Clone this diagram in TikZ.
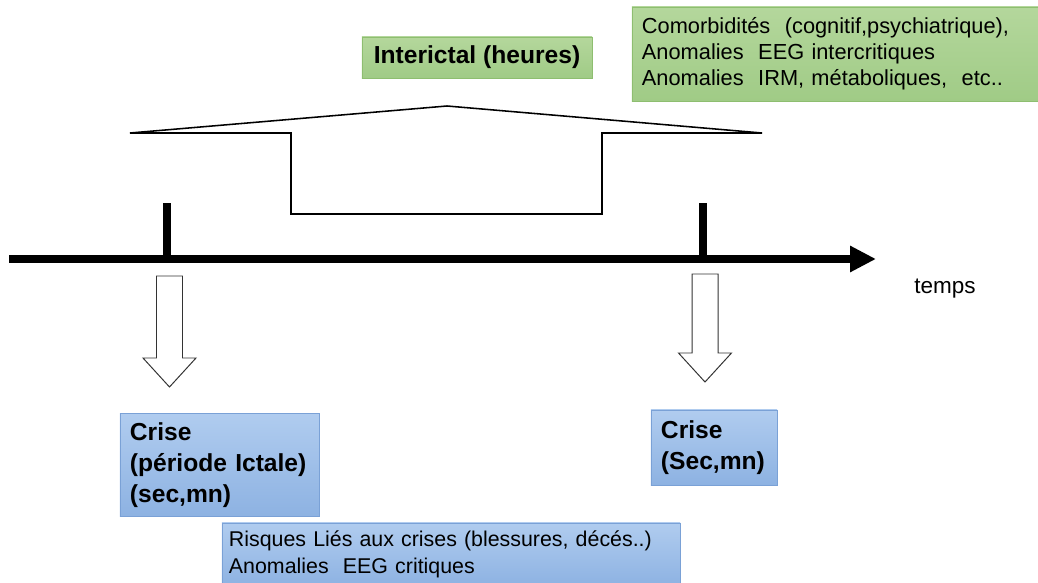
\documentclass[tikz,border=0pt]{standalone}
\usepackage{fontspec}
\setmainfont{Liberation Sans}
\usetikzlibrary{arrows.meta}
\definecolor{greentop}{RGB}{180, 215, 156}
\definecolor{greenbot}{RGB}{160, 203, 134}
\definecolor{greenline}{RGB}{142, 190, 112}
\definecolor{bluetop}{RGB}{176, 204, 239}
\definecolor{bluebot}{RGB}{141, 178, 226}
\definecolor{blueline}{RGB}{122, 161, 214}

\tikzset{
  greenbox/.style={draw=greenline, top color=greentop, bottom color=greenbot, inner xsep=0.25cm},
  bluebox/.style={draw=blueline, top color=bluetop, bottom color=bluebot, inner xsep=0.25cm},
  plaintxt/.style={font=\fontsize{15.5}{18.5}\selectfont, align=left},
  boldtxt/.style={font=\fontsize{17.5}{22}\selectfont\bfseries, align=left},
  hollow/.style={draw=black!80, fill=white, line width=0.7pt}
}

\begin{document}
\begin{tikzpicture}[x=0.025cm, y=-0.025cm]
        \useasboundingbox (0,0) rectangle (1038,583);

        % top boxes
        \node[greenbox, plaintxt, text width=9.65cm, minimum height=2.35cm] (comorb) at (835,54)
          {Comorbidités \ (cognitif,psychiatrique),\\Anomalies \ EEG intercritiques\\Anomalies \ IRM, métaboliques, \ etc..};
        \node[greenbox, boldtxt, minimum width=5.75cm, minimum height=1.025cm, inner xsep=0pt] (inter) at (477,57.5)
          {Interictal (heures)};

        % interictal bracket
        \draw[line width=1.1pt, fill=white] (130,133) -- (447,106) -- (762,133) -- (602,133)
          -- (602,214) -- (291,214) -- (291,133) -- cycle;

        % time axis
        \coordinate (t0) at (9,259);
        \coordinate (t1) at (876,259);
        \coordinate (c1) at (167,259);
        \coordinate (c2) at (703,259);
        \draw[line width=0.175cm, -{Triangle[length=0.65cm, width=0.62cm]}] (t0) -- (t1);
        \draw[line width=0.2cm] (c1) -- ++(0,-56);
        \draw[line width=0.2cm] (c2) -- ++(0,-56);
        \node[plaintxt, font=\fontsize{16}{19}\selectfont] (temps) at (945,289) {temps};

        % hollow arrows
        \draw[hollow] (156.5,276) -- (182.5,276) -- (182.5,358) -- (196,358) -- (169.5,387)
          -- (143,358) -- (156.5,358) -- cycle;
        \draw[hollow] (692,274) -- (718,274) -- (718,353) -- (731.5,353) -- (705,382)
          -- (678.5,353) -- (692,353) -- cycle;

        % seizure boxes
        \node[bluebox, boldtxt, text width=4.475cm, minimum height=2.575cm] (crise1) at (219.5,465)
          {Crise\\(période Ictale)\\(sec,mn)};
        \node[bluebox, boldtxt, text width=2.65cm, minimum height=1.875cm] (crise2) at (714,447.5)
          {Crise\\(Sec,mn)};
        \node[bluebox, plaintxt, font=\fontsize{15.2}{19}\selectfont, inner xsep=0.175cm,
          text width=11.1cm, minimum height=1.575cm] (risques) at (451,554.5)
          {Risques Liés aux crises (blessures, décés..)\\Anomalies \ EEG critiques};
    \end{tikzpicture}
\end{document}
